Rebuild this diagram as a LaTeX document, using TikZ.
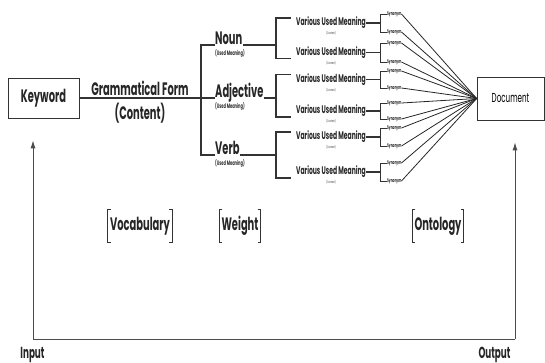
\documentclass[tikz,border=0pt]{standalone}
\usepackage{fontspec}
\setmainfont{Poppins}[FakeStretch=0.55]
\usepackage{tikz}
\usetikzlibrary{arrows.meta}

\begin{document}
\begin{tikzpicture}[x=1pt,y=-1pt,-]
                \tikzstyle{box}=[rectangle,draw=black!80,line width=0.7pt,inner sep=0pt]
                \tikzstyle{big}=[font=\fontsize{18}{18}\selectfont\bfseries,text=black!85,inner sep=0pt]
                \tikzstyle{wordclass}=[big,anchor=base west]
                \tikzstyle{note}=[font=\fontsize{6.5}{6.5}\selectfont\bfseries,text=black!80,inner sep=0pt]
                \tikzstyle{meaning}=[font=\fontsize{11}{11}\selectfont\bfseries,text=black!85,inner sep=0pt]
                \tikzstyle{syn}=[font=\fontsize{5.2}{5.2}\selectfont\bfseries,text=black!85,inner sep=0pt,anchor=west]
                \tikzstyle{tag}=[font=\fontsize{18}{18}\selectfont\bfseries,text=black!85,inner xsep=2pt,inner ysep=0pt,minimum height=33pt]
                \tikzstyle{link}=[draw=black!80,line width=1.1pt]
                \tikzstyle{ray}=[draw=black!85,line width=0.8pt]
                \tikzstyle{back}=[draw=black!70,line width=0.9pt]
                \useasboundingbox (0,0) rectangle (545,363);

                \node[box,big,minimum width=71pt,minimum height=40pt] (K) at (43.5,98) {Keyword};
                \node[box,minimum width=67pt,minimum height=43pt,font=\fontsize{13}{13}\selectfont] (D) at (510.5,98.5) {Document};
                \node[big] (G) at (140,88) {Grammatical Form};
                \node[big] (C) at (140,113) {(Content)};

                \foreach \num/\y/\name in {1/45/Noun, 2/98/Adjective, 3/155/Verb}
                {
                        \node[wordclass] (P-\num) at (215,\y) {\name};
                        \node[note,anchor=north west] (U-\num) at ([yshift=-4pt]P-\num.base west) {(Used Meaning)};
                }
                \foreach \num/\y in {1/23, 2/52.5, 3/79.5, 4/111, 5/137, 6/172}
                {
                        \node[meaning] (M-\num) at (331,\y) {Various Used Meaning};
                        \node[note,font=\fontsize{3.5}{3.5}\selectfont,anchor=north] (N-\num) at ([yshift=-2pt]M-\num.south) {(Content)};
                }
                \foreach \num/\y in {1/14, 2/32, 3/43, 4/62, 5/71, 6/88, 7/103, 8/119, 9/128, 10/146, 11/163, 12/181}
                        \node[syn] (S-\num) at (387,\y) {Synonym};

                \draw[link] (K.east) -- (P-2.base west);
                \draw[link] (P-1.base west) -- ++(-14,0) |- (P-3.base west);

                \foreach \p/\a/\b in {1/1/2, 2/3/4, 3/5/6}
                {
                        \path ([xshift=-20pt]M-\a.west) coordinate (X-\p);
                        \draw[link] (P-\p.base east) -- (P-\p.base east -| X-\p);
                        \draw[link] ([shift={(-5,-5)}]M-\a.west) -- ++(-15,0) |- ([shift={(-5,6)}]M-\b.west);
                }
                \foreach \m/\a/\b in {1/1/2, 2/3/4, 3/5/6, 4/7/8, 5/9/10, 6/11/12}
                {
                        \draw[link] (M-\m.east) -- ++(15,0);
                        \draw[link,line width=0.9pt] (S-\a.west) -- ++(-7,0) |- (S-\b.west);
                }
                \foreach \num in {1,...,12}
                        \draw[ray] (S-\num.east) -- (D.west);

                \node[tag] (V) at (140,226) {Vocabulary};
                \node[tag] (W) at (240,226) {Weight};
                \node[tag] (O) at (438,226) {Ontology};
                \foreach \n in {V,W,O}
                {
                        \draw[link] ([xshift=3pt]\n.north west) -- (\n.north west) -- (\n.south west) -- ++(3,0);
                        \draw[link] ([xshift=-3pt]\n.north east) -- (\n.north east) -- (\n.south east) -- ++(-3,0);
                }

                \node[font=\fontsize{16}{16}\selectfont\bfseries,text=black!85] (I) at (32.5,355) {Input};
                \node[font=\fontsize{16}{16}\selectfont\bfseries,text=black!85] (Q) at (494.5,355) {Output};

                \coordinate (L) at (33,339);
                \coordinate (R) at (515,339);
                \draw[back,-{Latex[length=8pt,width=5pt]}] (R) -- (L) -- ([yshift=-22pt]K.south -| L);
                \draw[back,-{Latex[length=8pt,width=5pt]}] (R) -- ([yshift=-22pt]D.south -| R);
            \end{tikzpicture}
\end{document}
